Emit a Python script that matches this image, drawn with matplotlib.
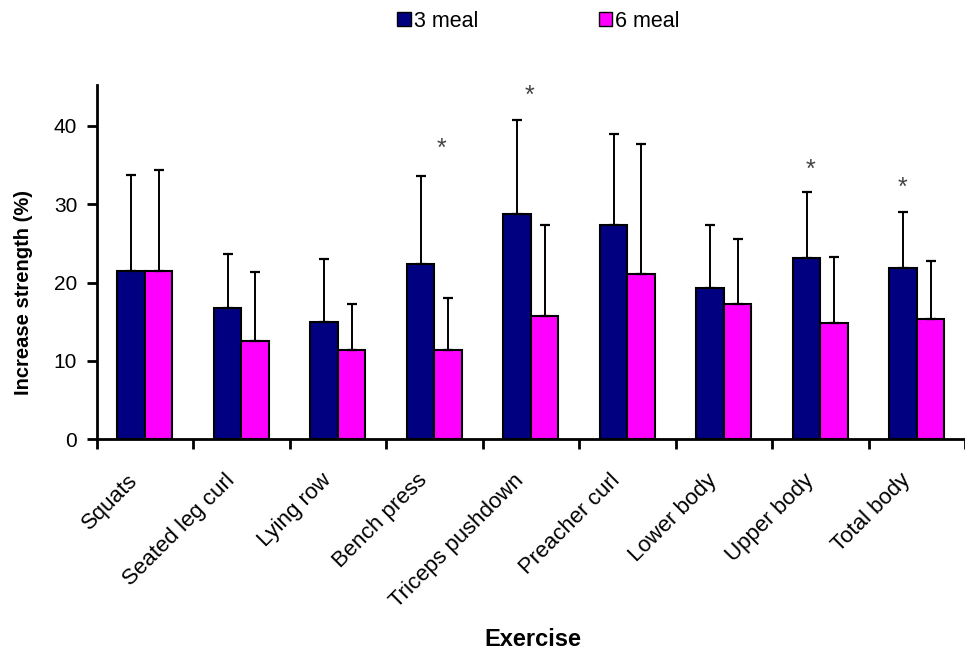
import matplotlib.pyplot as plt
import numpy as np
from matplotlib.patches import Patch

plt.rcParams['font.family'] = ['Liberation Sans', 'DejaVu Sans']

# strength gain per exercise, mean and SD (upper bar only)
exercises = ['Squats', 'Seated leg curl', 'Lying row', 'Bench press',
             'Triceps pushdown', 'Preacher curl', 'Lower body', 'Upper body',
             'Total body']
meal3_mean = [21.5, 16.8, 15.0, 22.4, 28.7, 27.4, 19.3, 23.1, 21.8]
meal3_sd = [12.2, 6.8, 8.0, 11.2, 12.0, 11.6, 8.1, 8.4, 7.2]
meal6_mean = [21.5, 12.6, 11.4, 11.4, 15.7, 21.1, 17.2, 14.9, 15.4]
meal6_sd = [12.8, 8.7, 5.8, 6.6, 11.7, 16.6, 8.4, 8.4, 7.4]

# significance markers: category, height
star_cat = [3, 4, 7, 8]
star_y = [37.0, 43.8, 34.4, 32.1]
star_dx = [0.07, -0.01, -0.1, -0.15]

fig = plt.figure(figsize=(9.65, 6.59), dpi=100)
ax = fig.add_axes([0.1002, 0.3334, 0.8998, 0.5376])

x = np.arange(len(exercises))
w = 0.285
eb = dict(ecolor='black', elinewidth=1.4, capsize=3.3, capthick=1.6)
ax.bar(x - w / 2, meal3_mean, w, color='#000080', edgecolor='black',
       linewidth=1.5, yerr=[np.zeros(len(x)), meal3_sd], error_kw=eb,
       label='3 meal', zorder=2)
ax.bar(x + w / 2, meal6_mean, w, color='#FF00FF', edgecolor='black',
       linewidth=1.5, yerr=[np.zeros(len(x)), meal6_sd], error_kw=eb,
       label='6 meal', zorder=2)

for c, y, dx in zip(star_cat, star_y, star_dx):
    ax.text(c + dx, y, '*', ha='center', va='center', fontsize=18,
            color='#444444')

ax.set_xlim(-0.5, 8.43)
ax.set_ylim(0, 45.2)
ax.set_yticks([0, 10, 20, 30, 40])
ax.tick_params(axis='y', labelsize=15, width=2, length=7, direction='out',
               pad=7)

# category boundaries carry the ticks, labels sit under the bars
ax.set_xticks(np.arange(-0.5, 9, 1))
ax.set_xticklabels([])
ax.tick_params(axis='x', width=2, length=7, direction='out')
for i, name in enumerate(exercises):
    ax.annotate(name, xy=(i - 0.18, 0), xycoords=('data', 'axes fraction'),
                xytext=(0, -22), textcoords='offset points',
                rotation=45, ha='right', va='top', rotation_mode='anchor',
                fontsize=16)

for s in ['top', 'right']:
    ax.spines[s].set_visible(False)
ax.spines['left'].set_linewidth(2)
ax.spines['bottom'].set_linewidth(2)

ax.set_ylabel('Increase strength (%)', fontsize=14.5, fontweight='bold')
ax.yaxis.set_label_coords(-0.0734, 0.414)
fig.text(0.552, 0.030, 'Exercise', ha='center', va='center', fontsize=17,
         fontweight='bold')

handles = [Patch(facecolor='#000080', edgecolor='black'),
           Patch(facecolor='#FF00FF', edgecolor='black')]
fig.legend(handles, ['3 meal', '6 meal'], loc='center',
           bbox_to_anchor=(0.558, 0.968), ncol=2, frameon=False, fontsize=15.5,
           handlelength=0.62, handleheight=0.62, handletextpad=0.15,
           columnspacing=5.6)

fig.savefig('out.png', dpi=100)
